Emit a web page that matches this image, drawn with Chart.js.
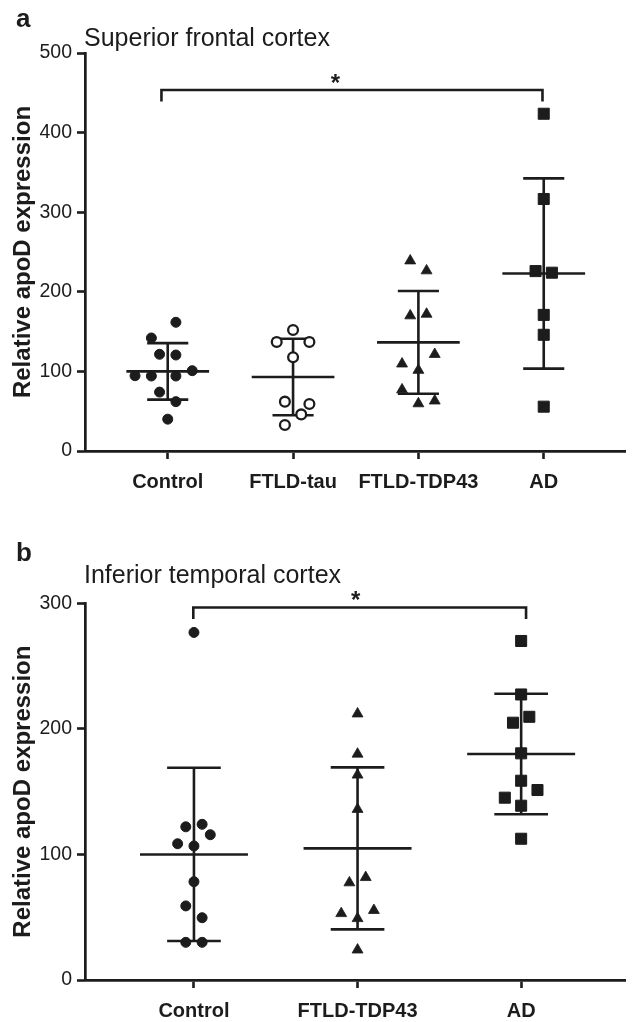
<!DOCTYPE html>
<html><head><meta charset="utf-8">
<script src="https://cdn.jsdelivr.net/npm/chart.js@4/dist/chart.umd.min.js"></script>
<style>
html,body{margin:0;padding:0;background:#fff;}
body{width:634px;height:1022px;position:relative;overflow:hidden;}
.p{position:absolute;left:0;width:634px;}
#wa{top:0;height:510px;}
#wb{top:510px;height:512px;}
</style></head><body>
<div class="p" id="wa"><canvas id="ca" width="634" height="510"></canvas></div>
<div class="p" id="wb"><canvas id="cb" width="634" height="512"></canvas></div>
<script>
// ---------- Panel a data ----------
const categoriesA = ['Control', 'FTLD-tau', 'FTLD-TDP43', 'AD'];
const controlA = [161.7, 142, 121.5, 120.6, 94.6, 94.2, 94.2, 100.9, 74, 62, 40];
const ftldTauA = [152, 137, 137, 117.7, 62, 59, 46, 32.7];
const ftldTdpA = [239, 226.5, 170, 172, 121.5, 109.5, 101.5, 77, 59.5, 63];
const adA = [423.7, 316.6, 226, 224, 171, 146, 55.7];
const meanA = [100, 93, 136.5, 223];
const sdA = [35.5, 48, 64.5, 119.5];
const yTicksA = [0, 100, 200, 300, 400, 500];
const sigA = [0, 3];          // compared groups
const sigLevelA = [439, 453.5]; // bracket foot / top (value units)

// ---------- Panel b data ----------
const categoriesB = ['Control', 'FTLD-TDP43', 'AD'];
const controlB = [276.8, 122, 124, 115.7, 108.5, 106.7, 78.3, 59, 49.6, 30, 30];
const ftldTdpB = [212, 180, 163.3, 136, 77.5, 81.7, 53, 55.5, 49, 24];
const adB = [270, 227.4, 209.6, 204.9, 180.5, 158.7, 151.3, 145.2, 138.8, 112.5];
const meanB = [100, 104.8, 180];
const sdB = [69, 64.5, 48];
const yTicksB = [0, 100, 200, 300];
const sigB = [0, 2];
const sigLevelB = [287.4, 296.7];

// ---------- layout (horizontal scatter slots, not data) ----------
const slotsA = [
  [1, -2, -1, 1, -4, -2, 1, 3, -1, 1, 0],
  [0, -2, 2, 0, -1, 2, 1, -1],
  [-1, 1, -1, 1, 2, -2, 0, -2, 0, 2],
  [0, 0, -1, 1, 0, 0, 0]
];
const slotsB = [
  [0, -1, 1, 2, -2, 0, 0, -1, 1, -1, 1],
  [0, 0, 0, 0, -1, 1, -2, 2, 0, 0],
  [0, 0, 1, -1, 0, 0, 2, -2, 0, 0]
];

const INK = '#1c1c1c';
const FONT = '"Liberation Sans", Arial, Helvetica, sans-serif';
Chart.defaults.font.family = FONT;
Chart.defaults.color = INK;

const STY = {
  dot: {pointStyle: 'circle', pointRadius: 5, borderWidth: 1, backgroundColor: INK},
  ring: {pointStyle: 'circle', pointRadius: 4.9, borderWidth: 2.3, backgroundColor: '#fff'},
  tri: {pointStyle: 'triangle', pointRadius: 6.3, borderWidth: 0.8, backgroundColor: INK},
  sq: {pointStyle: 'rect', pointRadius: 7.8, borderWidth: 1, backgroundColor: INK}
};

function buildDatasets(groups, means, sds, slotW, sig, sigLevel, sigOffset) {
  const ds = [];
  const seg = (pts, w) => ds.push({data: pts, showLine: true, pointRadius: 0, borderColor: INK,
    borderWidth: w || 2.6, fill: false, order: 1, borderCapStyle: 'butt', borderJoinStyle: 'miter'});
  groups.forEach((g, i) => {
    ds.push(Object.assign({
      data: g.values.map((v, k) => ({x: i + g.slots[k] * slotW, y: v})),
      showLine: false, borderColor: INK, order: 0
    }, STY[g.style]));
    const m = means[i], s = sds[i];
    seg([{x: i - 0.33, y: m}, {x: i + 0.33, y: m}]);
    seg([{x: i, y: m - s}, {x: i, y: m + s}]);
    seg([{x: i - 0.164, y: m + s}, {x: i + 0.164, y: m + s}]);
    seg([{x: i - 0.164, y: m - s}, {x: i + 0.164, y: m - s}]);
  });
  const x0 = sig[0] + sigOffset[0], x1 = sig[1] + sigOffset[1];
  seg([{x: x0, y: sigLevel[0]}, {x: x0, y: sigLevel[1]}, {x: x1, y: sigLevel[1]}, {x: x1, y: sigLevel[0]}], 2.6);
  return ds;
}

const annot = {
  id: 'annot',
  afterDraw(chart, args, o) {
    const {ctx} = chart;
    const xs = chart.scales.x, ys = chart.scales.y;
    ctx.save();
    ctx.fillStyle = INK;
    ctx.textBaseline = 'alphabetic';
    ctx.textAlign = 'left';
    ctx.font = 'bold 26px ' + FONT;
    ctx.fillText(o.letter, o.letterX, o.letterY);
    ctx.font = '25px ' + FONT;
    ctx.fillText(o.title, o.titleX, o.titleY);
    ctx.textAlign = 'center';
    ctx.font = 'bold 24px ' + FONT;
    ctx.fillText('*', xs.getPixelForValue(o.starX), ys.getPixelForValue(o.starLevel) + 1);
    ctx.restore();
  }
};

function makeChart(id, cats, groups, means, sds, slotW, sig, sigLevel, sigOffset, yMax, yTicks, xMin, xMax, padTop, xH, ann) {
  return new Chart(document.getElementById(id), {
    type: 'scatter',
    data: {datasets: buildDatasets(groups, means, sds, slotW, sig, sigLevel, sigOffset)},
    plugins: [annot],
    options: {
      responsive: false, animation: false, events: [],
      layout: {padding: {top: padTop, left: 0, right: 0, bottom: 0}},
      plugins: {legend: {display: false}, tooltip: {enabled: false}, annot: ann},
      scales: {
        x: {
          type: 'linear', min: xMin, max: xMax,
          afterBuildTicks: s => { s.ticks = cats.map((c, i) => ({value: i})); },
          afterFit: s => { s.height = xH; },
          ticks: {callback: v => cats[v], font: {size: 20, weight: 'bold'}, color: INK, padding: 11.5, maxRotation: 0, autoSkip: false},
          grid: {drawOnChartArea: false, drawTicks: true, tickLength: 8, tickWidth: 2.6, tickColor: INK},
          border: {display: true, width: 2.7, color: INK}
        },
        y: {
          min: 0, max: yMax,
          afterBuildTicks: s => { s.ticks = yTicks.map(v => ({value: v})); },
          afterFit: s => { s.width = 85; },
          ticks: {font: {size: 19.5}, color: INK, padding: 5},
          title: {display: true, text: 'Relative apoD expression', font: {size: 24, weight: 'bold'}, color: INK, padding: {top: 9, bottom: 0}},
          grid: {drawOnChartArea: false, drawTicks: true, tickLength: 8, tickWidth: 2.6, tickColor: INK},
          border: {display: true, width: 2.7, color: INK}
        }
      }
    }
  });
}

makeChart('ca', categoriesA, [
  {values: controlA, slots: slotsA[0], style: 'dot'},
  {values: ftldTauA, slots: slotsA[1], style: 'ring'},
  {values: ftldTdpA, slots: slotsA[2], style: 'tri'},
  {values: adA, slots: slotsA[3], style: 'sq'}
], meanA, sdA, 0.0652, sigA, sigLevelA, [-0.05, -0.01], 500, yTicksA, -0.66, 3.65, 53, 59,
  {letter: 'a', letterX: 16, letterY: 27, title: 'Superior frontal cortex', titleX: 84, titleY: 46, starX: 1.338, starLevel: 453.5});

makeChart('cb', categoriesB, [
  {values: controlB, slots: slotsB[0], style: 'dot'},
  {values: ftldTdpB, slots: slotsB[1], style: 'tri'},
  {values: adB, slots: slotsB[2], style: 'sq'}
], meanB, sdB, 0.0499, sigB, sigLevelB, [-0.004, 0.03], 300, yTicksB, -0.666, 2.636, 93.3, 42,
  {letter: 'b', letterX: 16, letterY: 51, title: 'Inferior temporal cortex', titleX: 84, titleY: 73.3, starX: 0.988, starLevel: 296.7});
</script>
</body></html>
